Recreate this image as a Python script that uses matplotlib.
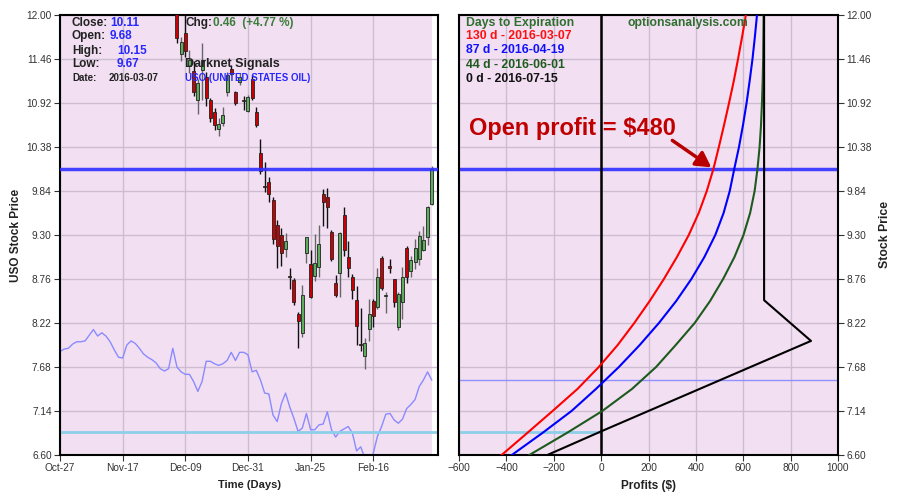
import matplotlib
matplotlib.use("Agg")
import matplotlib.pyplot as plt

plt.rcParams['font.family'] = ['Liberation Sans', 'DejaVu Sans']

# ---- left panel: USO daily candles, x = trading day counted from Oct-27-2015
days = list(range(28, 90))
opens = [12.15, 11.52, 11.78, 11.37, 11.31, 10.96, 11.33, 11.24, 10.96, 10.81,
         10.60, 10.67, 11.05, 11.34, 11.05, 11.18, 10.95, 10.82, 11.21, 10.81,
         10.31, 9.90, 9.95, 9.73, 9.42, 9.30, 9.13, 8.80, 8.75, 8.33,
         8.10, 9.08, 8.94, 8.80, 8.91, 9.80, 9.77, 9.34, 8.71, 8.83,
         9.55, 9.03, 8.78, 8.50, 7.96, 7.81, 8.15, 8.49, 8.42, 9.02,
         8.55, 8.91, 8.76, 8.17, 8.48, 9.14, 8.86, 8.97, 9.00, 9.12,
         9.28, 9.68]
highs = [12.20, 11.73, 12.02, 11.57, 11.43, 11.22, 11.66, 11.30, 10.98, 10.86,
         10.74, 10.87, 11.30, 11.39, 11.07, 11.29, 11.00, 11.02, 11.26, 10.87,
         10.48, 10.20, 10.01, 9.77, 9.48, 9.39, 9.33, 8.89, 8.77, 8.36,
         8.69, 9.28, 9.12, 9.31, 9.42, 9.86, 9.88, 9.36, 8.81, 9.34,
         9.64, 9.23, 8.82, 8.67, 8.40, 8.03, 8.51, 8.52, 8.89, 9.04,
         8.60, 9.01, 8.76, 8.60, 8.91, 9.16, 9.04, 9.25, 9.35, 9.41,
         9.65, 10.15]
lows = [11.66, 11.44, 11.48, 11.29, 11.00, 10.78, 10.96, 10.88, 10.69, 10.59,
        10.51, 10.64, 11.00, 11.26, 10.90, 11.14, 10.83, 10.81, 10.96, 10.63,
        10.05, 9.83, 9.70, 9.19, 8.89, 8.92, 9.03, 8.64, 8.44, 7.91,
        8.05, 8.96, 8.53, 8.73, 8.79, 9.41, 9.39, 8.98, 8.54, 8.54,
        9.04, 8.79, 8.51, 7.95, 7.88, 7.66, 8.00, 8.17, 8.39, 8.62,
        8.34, 8.83, 8.42, 8.13, 8.27, 8.71, 8.79, 8.88, 8.93, 9.10,
        9.18, 9.67]
closes = [11.72, 11.67, 11.56, 11.45, 11.06, 11.16, 11.45, 10.98, 10.74, 10.65,
          10.66, 10.77, 11.26, 11.28, 10.92, 11.24, 10.94, 10.99, 10.98, 10.65,
          10.09, 9.89, 9.80, 9.25, 9.16, 9.08, 9.23, 8.78, 8.48, 8.24,
          8.56, 9.27, 8.54, 8.96, 9.19, 9.70, 9.64, 9.01, 8.56, 9.33,
          9.12, 8.90, 8.63, 8.18, 7.95, 7.98, 8.33, 8.31, 8.78, 8.65,
          8.56, 8.90, 8.48, 8.58, 8.78, 8.79, 8.99, 9.14, 9.29, 9.24,
          9.64, 10.11]

# purple indicator line, one value per day from Oct-27
signal = [7.87, 7.90, 7.91, 7.96, 7.99, 7.99, 8.00, 8.07, 8.14, 8.06,
          8.10, 8.06, 7.99, 7.89, 7.80, 7.79, 7.95, 8.00, 7.97, 7.91,
          7.84, 7.80, 7.77, 7.73, 7.66, 7.63, 7.66, 7.91, 7.68, 7.62,
          7.59, 7.59, 7.50, 7.38, 7.50, 7.75, 7.75, 7.72, 7.70, 7.72,
          7.76, 7.86, 7.76, 7.86, 7.86, 7.83, 7.62, 7.64, 7.52, 7.36,
          7.35, 7.09, 7.01, 7.23, 7.36, 7.19, 7.05, 6.89, 6.93, 7.11,
          6.91, 6.91, 6.97, 6.98, 7.13, 6.91, 6.82, 6.89, 6.92, 6.95,
          6.87, 6.65, 6.70, 6.56, 6.42, 6.62, 6.83, 6.95, 7.10, 7.11,
          7.03, 6.99, 7.04, 7.17, 7.22, 7.28, 7.44, 7.52, 7.62, 7.52]

date_ticks = [0, 15, 30, 45, 60, 75]
date_labels = ['Oct-27', 'Nov-17', 'Dec-09', 'Dec-31', 'Jan-25', 'Feb-16']
price_ticks = [6.60, 7.14, 7.68, 8.22, 8.76, 9.30, 9.84, 10.38, 10.92, 11.46, 12.00]

last_close = 10.11
breakeven = 6.88

# ---- right panel: profit read at the price gridlines (half steps)
curve_prices = [6.60, 6.87, 7.14, 7.41, 7.68, 7.95, 8.22, 8.49, 8.76, 9.03, 9.30,
                9.57, 9.84, 10.11, 10.38, 10.65, 10.92, 11.19, 11.46, 11.73, 12.00]
profit_130 = [-420, -312, -205, -100, -10, 70, 140, 205, 265, 320, 370,
              412, 446, 474, 497, 519, 540, 560, 578, 595, 611]
profit_87 = [-377, -248, -125, -22, 75, 163, 244, 317, 381, 436, 482,
             517, 543, 562, 582, 599, 614, 627, 639, 649, 658]
profit_44 = [-303, -145, 5, 130, 232, 315, 395, 460, 515, 563, 601,
             629, 648, 660, 669, 675, 679, 682, 684, 685, 686]
price_0 = [6.60, 6.89, 8.00, 8.50, 12.00]
profit_0 = [-227, 0, 886, 688, 688]

profit_ticks = list(range(-600, 1001, 200))

bg = '#f2e0f2'
grid_c = '#cdbcd2'
red_body = '#cc0000'
green_body = '#5cae5c'
dark = '#222222'

fig = plt.figure(figsize=(9, 5.01), dpi=100)
ax1 = fig.add_axes([60 / 900, 46 / 501, 378 / 900, 440 / 501])
ax2 = fig.add_axes([459 / 900, 46 / 501, 379 / 900, 440 / 501])

# left panel
ax1.set_facecolor('white')
ax1.axvspan(-1, 89.1, facecolor=bg, zorder=0)
ax1.set_xlim(0, 90.5)
ax1.set_ylim(6.6, 12.0)
ax1.set_xticks(date_ticks)
ax1.set_xticklabels(date_labels)
ax1.set_yticks(price_ticks)
ax1.set_yticklabels(['%.2f' % p for p in price_ticks])
ax1.grid(True, color=grid_c, lw=1, zorder=1)
ax1.set_axisbelow(True)

ax1.plot(range(len(signal)), signal, color='#8a8aff', lw=1, zorder=2)
ax1.axhline(breakeven, color='#8ecfe8', lw=2, zorder=2)
ax1.axhline(last_close, color='#3030ff', lw=2.5, alpha=0.9, zorder=5)

for d, o, h, l, c in zip(days, opens, highs, lows, closes):
    up = c >= o
    wick = '#666666' if up else '#111111'
    ax1.vlines(d, l, h, color=wick, lw=1, zorder=3)
    lo = min(o, c)
    hgt = max(abs(c - o), 0.015)
    ax1.bar(d, hgt, bottom=lo, width=0.72, color=green_body if up else red_body,
            edgecolor='#222222', lw=0.6, zorder=4)

ax1.set_xlabel('Time (Days)', fontsize=8, fontweight='bold', color=dark, labelpad=5)
ax1.set_ylabel('USO Stock Price', fontsize=8.5, fontweight='bold', color=dark, labelpad=3)

# right panel
ax2.set_facecolor(bg)
ax2.set_xlim(-600, 1000)
ax2.set_ylim(6.6, 12.0)
ax2.set_xticks(profit_ticks)
ax2.set_yticks(price_ticks)
ax2.set_yticklabels(['%.2f' % p for p in price_ticks])
ax2.yaxis.tick_right()
ax2.yaxis.set_label_position('right')
ax2.grid(True, color=grid_c, lw=1, zorder=1)
ax2.set_axisbelow(True)

ax2.axhline(signal[-1], color='#9090ff', lw=1, zorder=2)
ax2.plot([-600, 0], [breakeven, breakeven], color='#8ecfe8', lw=2, zorder=2)
ax2.axhline(last_close, color='#3030ff', lw=2.5, alpha=0.9, zorder=2)
ax2.axvline(0, color='black', lw=1.8, zorder=3)

ax2.plot(profit_130, curve_prices, color='#ff0000', lw=1.5, zorder=4)
ax2.plot(profit_87, curve_prices, color='#0000ff', lw=1.5, zorder=4)
ax2.plot(profit_44, curve_prices, color='#1e5a1e', lw=1.5, zorder=4)
ax2.plot(profit_0, price_0, color='black', lw=1.5, zorder=4)

ax2.annotate('', xy=(475, last_close), xytext=(291, 10.48),
             arrowprops=dict(arrowstyle='-|>,head_length=0.9,head_width=0.5',
                             color='#b80000', lw=2.5), zorder=6)
ax2.text(-558, 10.53, 'Open profit = $480', fontsize=17, fontweight='bold',
         color='#c00000', va='baseline', zorder=6)

ax2.set_xlabel('Profits ($)', fontsize=8.5, fontweight='bold', color=dark, labelpad=5)
ax2.set_ylabel('Stock Price', fontsize=8.8, fontweight='bold', color=dark, labelpad=5)

for ax in (ax1, ax2):
    ax.tick_params(labelsize=7.3, colors='#333333', length=4, pad=2)
    for s in ax.spines.values():
        s.set_color('black')
        s.set_linewidth(1.5)

# header texts
def put(x, y, s, color, size):
    fig.text(x / 900, 1 - y / 501, s, color=color, fontsize=size, fontweight='bold',
             va='center', ha='left')

blue = '#2828ff'
put(72, 23, 'Close:', dark, 8.5)
put(110, 23, '10.11', blue, 8.5)
put(72, 36, 'Open:', dark, 8.5)
put(110, 36, '9.68', blue, 8.5)
put(72, 51, 'High:', dark, 8.5)
put(117, 51, '10.15', blue, 8.5)
put(72, 64, 'Low:', dark, 8.5)
put(117, 64, '9.67', blue, 8.5)
put(72, 78, 'Date:', dark, 7)
put(109, 78, '2016-03-07', dark, 7)
put(185, 23, 'Chg:', dark, 8.5)
put(213, 23, '0.46  (+4.77 %)', '#3a7d3a', 8.5)
put(185, 64, 'Darknet Signals', dark, 9)
put(185, 78, 'USO (UNITED STATES OIL)', blue, 7)

put(466, 23, 'Days to Expiration', '#2e6e2e', 8.8)
put(466, 36, '130 d - 2016-03-07', '#ff1010', 8.8)
put(466, 50, '87 d - 2016-04-19', '#1010ff', 8.8)
put(466, 65, '44 d - 2016-06-01', '#1e5a1e', 8.8)
put(466, 79, '0 d - 2016-07-15', '#111111', 8.8)
put(627, 23, 'optionsanalysis.com', '#2e6e2e', 8.7)

fig.savefig('out.png', dpi=100)
